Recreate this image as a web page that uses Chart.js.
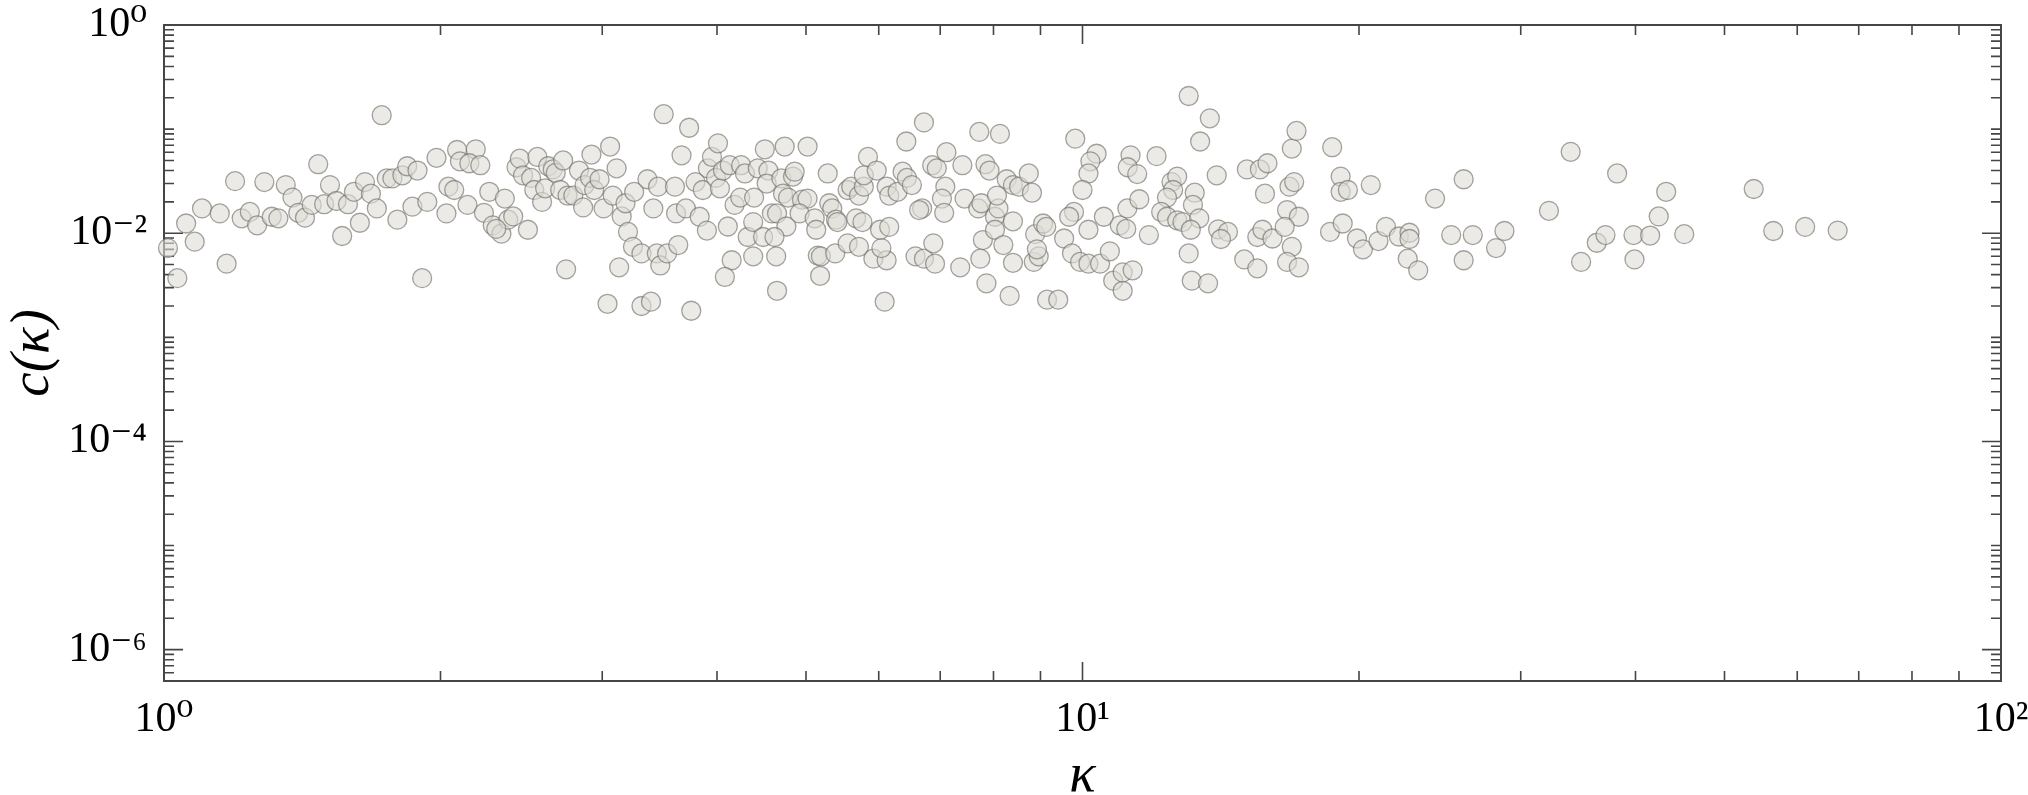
<!DOCTYPE html>
<html><head><meta charset="utf-8">
<script src="https://cdn.jsdelivr.net/npm/chart.js@4/dist/chart.umd.min.js"></script>
<style>html,body{margin:0;padding:0;background:#fff;}canvas{display:block;}</style>
</head><body>
<canvas id="chart" width="2028" height="795"></canvas>
<script>
// ---- data ----
const kappa = [
1.01,1.034,1.057,1.08,1.10,1.15,1.17,1.195,1.215,1.24,1.263,1.286,1.31,1.332,1.357,1.38,1.40,1.424,1.448,1.472,
1.494,1.516,1.541,1.563,1.586,1.61,1.634,1.655,1.68,1.705,1.726,1.748,1.773,1.795,1.818,1.84,1.864,1.888,1.91,1.935,
1.98,2.03,2.04,2.07,2.085,2.10,2.185,2.15,2.21,2.26,2.35,2.14,2.23,2.28,2.33,2.37,2.40,2.30,2.49,2.42,
2.44,2.46,2.51,2.53,2.55,2.58,2.60,2.62,2.65,2.67,2.72,2.70,2.75,2.79,2.83,2.86,2.87,2.91,2.92,2.94,
2.98,3.01,3.06,3.08,3.11,3.15,3.18,3.20,3.24,3.25,3.31,3.36,3.41,3.44,3.47,3.45,3.53,3.50,3.60,3.61,
3.63,3.66,3.70,3.73,3.79,3.83,3.86,3.90,3.91,3.95,3.99,4.01,4.03,4.06,4.11,4.13,4.18,4.24,4.25,4.29,
4.32,4.38,4.38,4.15,4.08,2.74,3.13,3.04,3.31,3.39,3.75,4.51,4.74,5.02,4.43,4.55,4.53,4.70,4.84,4.86,
4.72,4.78,4.39,4.95,5.02,5.28,4.59,4.65,4.76,4.92,5.11,5.13,5.30,5.34,5.39,5.41,4.49,4.62,4.64,5.15,
5.19,5.38,5.18,4.65,5.55,5.60,5.71,5.78,5.78,5.84,5.97,5.67,5.76,5.55,5.71,5.92,6.12,6.04,6.02,6.16,
6.09,6.12,6.16,6.29,6.37,6.44,6.52,6.43,6.72,6.69,6.64,6.58,6.72,6.88,6.91,6.86,6.94,7.11,7.09,7.03,
7.07,7.40,7.44,7.36,7.72,8.13,7.84,7.92,7.70,7.76,7.79,8.03,8.10,8.07,8.03,8.20,7.74,7.86,8.27,8.40,
8.40,8.40,8.33,8.53,8.74,8.81,8.88,8.85,8.96,8.92,9.06,9.13,9.15,9.79,9.67,9.55,9.74,9.94,10.15,10.45,
10.71,10.8,11.06,11.06,11.34,9.41,10.15,10.55,10.98,11.16,11.19,11.53,11.81,9.82,10.36,10.2,10.15,10.0,11.28,11.2,
11.47,12.04,13.05,13.76,13.43,14.0,12.5,12.68,12.55,12.36,13.25,13.19,12.18,12.36,12.68,12.85,13.4,13.12,13.05,13.15,
13.7,14.05,14.4,14.15,15.1,15.6,15.9,15.8,15.5,15.7,16.1,15.0,15.5,16.9,17.1,16.8,17.0,16.7,17.2,16.6,
16.9,16.7,17.2,18.7,18.6,19.1,19.1,19.2,19.45,20.6,19.9,20.2,21.0,21.4,22.1,22.7,22.7,22.6,23.2,24.2,
26.0,25.2,26.6,26.0,28.8,28.2,32.2,34.0,38.2,34.9,36.3,37.1,39.8,39.9,41.5,42.4,43.2,45.2,53.8,56.5,
61.2,66.4
];
const cValues = [
0.0072,0.0037,0.0124,0.0083,0.0173,0.0155,0.0051,0.0316,0.0139,0.016,0.0119,0.031,0.0144,0.0139,0.029,0.022,0.0157,0.0141,0.0187,0.046,
0.019,0.029,0.0204,0.0094,0.019,0.025,0.0126,0.031,0.024,0.0173,0.136,0.0336,0.0336,0.0135,0.036,0.044,0.018,0.04,0.0037,0.02,
0.053,0.0155,0.028,0.026,0.063,0.049,0.064,0.047,0.045,0.025,0.0215,0.0187,0.0157,0.0119,0.0099,0.0135,0.0145,0.011,0.0108,0.043,
0.052,0.036,0.034,0.026,0.054,0.020,0.027,0.044,0.041,0.038,0.050,0.026,0.023,0.023,0.040,0.0177,0.029,0.034,0.057,0.026,
0.033,0.0173,0.068,0.023,0.042,0.0145,0.0194,0.0103,0.0074,0.025,0.0064,0.033,0.0173,0.0064,0.0049,0.028,0.0064,0.139,0.028,0.0155,
0.0077,0.056,0.0173,0.103,0.031,0.0144,0.026,0.0106,0.042,0.054,0.034,0.073,0.027,0.040,0.0116,0.045,0.0187,0.022,0.045,0.0375,
0.0092,0.0128,0.006,0.0055,0.0038,0.0045,0.0047,0.0021,0.002,0.0022,0.0018,0.064,0.068,0.068,0.042,0.040,0.030,0.0336,0.035,0.039,
0.024,0.022,0.022,0.021,0.0215,0.0375,0.0155,0.0155,0.0116,0.0155,0.0139,0.0108,0.0194,0.0173,0.0135,0.0128,0.0092,0.0092,0.006,0.0061,
0.006,0.0064,0.0039,0.0028,0.026,0.028,0.023,0.028,0.036,0.054,0.040,0.0139,0.0128,0.008,0.0074,0.0057,0.0055,0.0072,0.0108,0.0115,
0.0022,0.028,0.023,0.025,0.039,0.034,0.029,0.076,0.116,0.0173,0.0167,0.006,0.0057,0.008,0.0051,0.045,0.042,0.060,0.028,0.0215,
0.0157,0.045,0.0215,0.0047,0.094,0.090,0.046,0.040,0.0173,0.0194,0.0086,0.0144,0.0173,0.023,0.0108,0.0077,0.0057,0.0033,0.033,0.029,
0.013,0.0052,0.0025,0.028,0.0375,0.0245,0.0098,0.0053,0.006,0.007,0.0124,0.0115,0.0023,0.016,0.0144,0.0089,0.0064,0.0053,0.0051,0.0051,
0.0067,0.0035,0.0028,0.0042,0.0044,0.0023,0.0108,0.0144,0.0119,0.011,0.0173,0.0212,0.0096,0.081,0.058,0.049,0.0375,0.026,0.056,0.043,
0.037,0.055,0.208,0.127,0.076,0.036,0.031,0.035,0.026,0.022,0.0245,0.0187,0.016,0.0144,0.0133,0.0128,0.0139,0.0108,0.0064,0.0035,
0.0033,0.0109,0.0103,0.0088,0.041,0.041,0.047,0.024,0.0092,0.0108,0.0089,0.0056,0.0046,0.065,0.096,0.028,0.031,0.0167,0.0144,0.0115,
0.0074,0.0053,0.0047,0.067,0.0103,0.035,0.025,0.0124,0.026,0.029,0.0089,0.0070,0.0084,0.0115,0.0093,0.0101,0.0088,0.0057,0.0044,0.0215,
0.033,0.0096,0.0096,0.0055,0.0105,0.0072,0.0164,0.0605,0.0375,0.0053,0.0081,0.0096,0.0096,0.0056,0.0095,0.0145,0.025,0.0098,0.0266,0.0105,
0.0115,0.0106
];
const xRange = [1, 100];
const yRange = [5e-7, 1];
const xMajorTicks = [1, 10, 100];
const xTickLabels = ['10⁰', '10¹', '10²'];
const yMajorTicks = [1, 1e-2, 1e-4, 1e-6];
const yTickLabels = ['10⁰', '10⁻²', '10⁻⁴', '10⁻⁶'];
const xTitle = 'κ';
const yTitle = 'c(κ)';

// ---- helpers ----
function logTicks(min, max) {
  const out = [];
  for (let e = Math.floor(Math.log10(min)); e <= Math.ceil(Math.log10(max)); e++) {
    for (let m = 1; m <= 9; m++) {
      const v = parseFloat((m * Math.pow(10, e)).toPrecision(6));
      if (v >= min * (1 - 1e-9) && v <= max * (1 + 1e-9)) out.push({value: v});
    }
  }
  return out;
}
function majorIndex(v, majors) {
  return majors.findIndex(m => Math.abs(Math.log10(v) - Math.log10(m)) < 1e-6);
}

const AXIS = '#454545';
const frameTicks = {
  id: 'frameTicks',
  beforeDatasetsDraw(chart) {
    const {ctx, chartArea: a, scales: {x, y}} = chart;
    ctx.save();
    ctx.strokeStyle = AXIS;
    ctx.lineWidth = 1.6;
    ctx.beginPath();
    x.ticks.forEach(t => {
      const px = x.getPixelForValue(t.value);
      const len = majorIndex(t.value, xMajorTicks) >= 0 ? 19 : 10;
      ctx.moveTo(px, a.bottom); ctx.lineTo(px, a.bottom - len);
      ctx.moveTo(px, a.top); ctx.lineTo(px, a.top + len);
    });
    y.ticks.forEach(t => {
      const py = y.getPixelForValue(t.value);
      const len = majorIndex(t.value, yMajorTicks) >= 0 ? 19 : 10;
      ctx.moveTo(a.left, py); ctx.lineTo(a.left + len, py);
      ctx.moveTo(a.right, py); ctx.lineTo(a.right - len, py);
    });
    ctx.stroke();
    ctx.lineWidth = 2;
    ctx.strokeRect(a.left, a.top, a.right - a.left, a.bottom - a.top);
    ctx.restore();
  }
};

const tickFont = {family: "'Liberation Serif', 'DejaVu Serif', serif", size: 42};
const titleFont = {family: "'Liberation Serif', 'DejaVu Serif', serif", size: 55, style: 'italic', lineHeight: 1};

new Chart(document.getElementById('chart'), {
  type: 'scatter',
  data: {
    datasets: [{
      data: kappa.map((k, i) => ({x: k, y: cValues[i]})),
      pointRadius: 9.5,
      pointHoverRadius: 9.5,
      borderWidth: 1.3,
      backgroundColor: 'rgba(222,220,213,0.6)',
      borderColor: 'rgba(105,103,96,0.6)',
      clip: false
    }]
  },
  options: {
    responsive: false,
    animation: false,
    events: [],
    layout: {padding: {left: 0, right: 27, top: 25, bottom: 0}},
    plugins: {legend: {display: false}, tooltip: {enabled: false}},
    scales: {
      x: {
        type: 'logarithmic',
        min: xRange[0], max: xRange[1],
        afterBuildTicks: s => { s.ticks = logTicks(xRange[0], xRange[1]); },
        afterFit: s => { s.height = 114; s.paddingLeft = 0; s.paddingRight = 0; },
        grid: {display: false, drawTicks: false},
        border: {display: false},
        ticks: {
          autoSkip: false, maxRotation: 0, padding: 14, color: '#000', font: tickFont,
          callback: v => { const i = majorIndex(v, xMajorTicks); return i >= 0 ? xTickLabels[i] : ''; }
        },
        title: {display: true, text: xTitle, color: '#000', font: titleFont, padding: {top: 0, bottom: -9}}
      },
      y: {
        type: 'logarithmic',
        min: yRange[0], max: yRange[1],
        afterBuildTicks: s => { s.ticks = logTicks(yRange[0], yRange[1]); },
        afterFit: s => { s.width = 164; s.paddingTop = 0; s.paddingBottom = 0; },
        grid: {display: false, drawTicks: false},
        border: {display: false},
        ticks: {
          autoSkip: false, padding: 17, color: '#000', font: tickFont,
          callback: v => { const i = majorIndex(v, yMajorTicks); return i >= 0 ? yTickLabels[i] : ''; }
        },
        title: {display: true, text: yTitle, color: '#000', font: titleFont, padding: {top: 6, bottom: 0}}
      }
    }
  },
  plugins: [frameTicks]
});
</script>
</body></html>
